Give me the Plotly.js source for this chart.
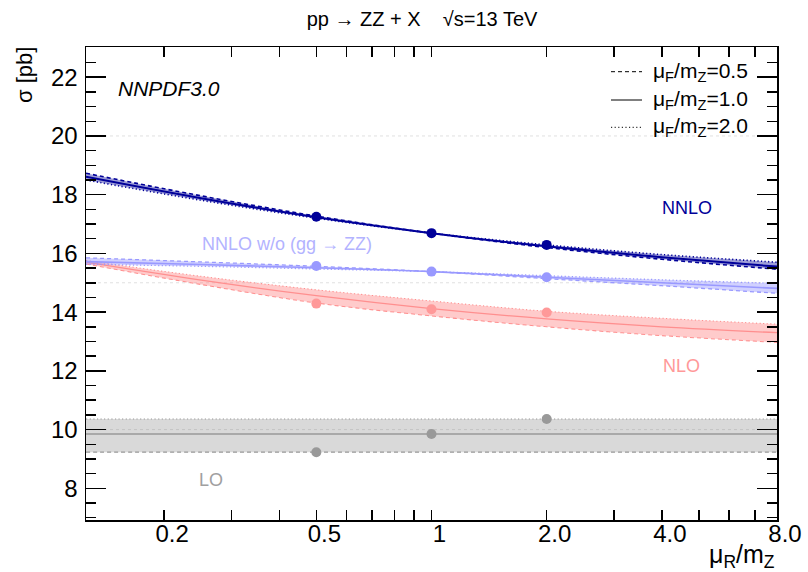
<!DOCTYPE html>
<html>
<head>
<meta charset="utf-8">
<script src="https://cdn.plot.ly/plotly-3.0.1.min.js"></script>
<style>html,body{margin:0;padding:0;background:#fff;}#chart{width:808px;height:572px;}</style>
</head>
<body>
<div id="chart"></div>
<script>
// scale ratio mu_R / m_Z
const muR = [0.125, 0.25, 0.5, 1, 2, 4, 8];

// NNLO
const nnlo_muF05 = [18.73, 17.96, 17.27, 16.69, 16.20, 15.80, 15.46];
const nnlo_muF10 = [18.61, 17.88, 17.23, 16.69, 16.24, 15.87, 15.55];
const nnlo_muF20 = [18.50, 17.81, 17.20, 16.69, 16.29, 15.96, 15.70];

// NNLO w/o (gg -> ZZ)
const nnloNoGG_muF05 = [15.85, 15.71, 15.56, 15.38, 15.14, 14.90, 14.64];
const nnloNoGG_muF10 = [15.72, 15.62, 15.51, 15.38, 15.19, 15.00, 14.81];
const nnloNoGG_muF20 = [15.63, 15.56, 15.47, 15.38, 15.24, 15.10, 14.98];

// NLO
const nlo_muF05 = [15.64, 14.94, 14.31, 13.87, 13.50, 13.20, 12.97];
const nlo_muF10 = [15.70, 15.09, 14.56, 14.12, 13.77, 13.50, 13.30];
const nlo_muF20 = [15.76, 15.22, 14.76, 14.38, 14.03, 13.79, 13.59];

// LO (independent of mu_R)
const lo_muF05 = [9.23, 9.23, 9.23, 9.23, 9.23, 9.23, 9.23];
const lo_muF10 = [9.85, 9.85, 9.85, 9.85, 9.85, 9.85, 9.85];
const lo_muF20 = [10.36, 10.36, 10.36, 10.36, 10.36, 10.36, 10.36];

// points at mu_R = mu_F
const ptsX = [0.5, 1, 2];
const nnlo_pts = [17.25, 16.69, 16.29];
const nnloNoGG_pts = [15.57, 15.38, 15.19];
const nlo_pts = [14.29, 14.10, 13.99];
const lo_pts = [9.23, 9.85, 10.36];

// axis ticks
const xTickVals = [0.2, 0.5, 1, 2, 4, 8];
const xTickText = ['0.2', '0.5', '1', '2.0', '4.0', '8.0'];
const xMinorVals = [0.3, 0.4, 0.6, 0.7, 0.8, 0.9, 3, 5, 6, 7];

const FONT = 'Liberation Sans, Arial, Helvetica, sans-serif';
const DASH = '4px,3px';
const DOT = '1.2px,2.4px';

function group(y05, y10, y20, color, fill, w) {
  return [
    {x: muR, y: y05, type: 'scatter', mode: 'lines', line: {color: color, width: w * 0.8, dash: DASH, shape: 'spline'}, hoverinfo: 'skip'},
    {x: muR, y: y20, type: 'scatter', mode: 'lines', fill: 'tonexty', fillcolor: fill, line: {color: color, width: w * 0.8, dash: DOT, shape: 'spline'}, hoverinfo: 'skip'},
    {x: muR, y: y10, type: 'scatter', mode: 'lines', line: {color: color, width: w, shape: 'spline'}, hoverinfo: 'skip'}
  ];
}
function pts(y, color) {
  return {x: ptsX, y: y, type: 'scatter', mode: 'markers', marker: {color: color, size: 10}, hoverinfo: 'skip'};
}

const C_NNLO = '#000099', C_NOGG = '#9999ff', C_NLO = '#ff8f8f', C_LO = '#999999';

const data = [].concat(
  group(lo_muF05, lo_muF10, lo_muF20, C_LO, 'rgba(140,140,140,0.33)', 1.5),
  group(nlo_muF05, nlo_muF10, nlo_muF20, C_NLO, 'rgba(255,130,130,0.42)', 1.3),
  group(nnloNoGG_muF05, nnloNoGG_muF10, nnloNoGG_muF20, C_NOGG, 'rgba(140,140,255,0.40)', 1.6),
  group(nnlo_muF05, nnlo_muF10, nnlo_muF20, C_NNLO, 'rgba(0,0,153,0.38)', 2),
  [pts(lo_pts, C_LO), pts(nlo_pts, '#ff9999'), pts(nnloNoGG_pts, C_NOGG), pts(nnlo_pts, C_NNLO)]
);

const H = 473, W = 691;
const legY = [71.7, 100, 127.3].map(v => (520 - v) / H);
const legDash = [DASH, 'solid', DOT];
const legText = ['μ<sub>F</sub>/m<sub>Z</sub>=0.5', 'μ<sub>F</sub>/m<sub>Z</sub>=1.0', 'μ<sub>F</sub>/m<sub>Z</sub>=2.0'];

const shapes = [];
// faint dotted reference grid
[10, 15, 20].forEach(v => shapes.push({type: 'line', xref: 'paper', yref: 'y', x0: 0, x1: 1, y0: v, y1: v, layer: 'below', line: {color: '#e0e0e0', width: 1, dash: 'dot'}}));
shapes.push({type: 'line', xref: 'x', yref: 'paper', x0: 0, x1: 0, y0: 0, y1: 1, layer: 'below', line: {color: '#e0e0e0', width: 1, dash: 'dot'}});
// long decade tick at 1 (bottom & top)
shapes.push({type: 'line', xref: 'x', yref: 'paper', x0: 0, x1: 0, y0: 0, y1: 20 / H, line: {color: '#000', width: 1.5}});
shapes.push({type: 'line', xref: 'x', yref: 'paper', x0: 0, x1: 0, y0: 1 - 20 / H, y1: 1, line: {color: '#000', width: 1.5}});
// legend samples
legY.forEach((yy, i) => shapes.push({type: 'line', xref: 'paper', yref: 'paper', x0: (611 - 86) / W, x1: (642 - 86) / W, y0: yy, y1: yy, line: {color: '#000', width: 1, dash: legDash[i]}}));

const annotations = [
  {text: 'NNPDF3.0', xref: 'paper', yref: 'paper', x: (116 - 86) / W, y: (520 - 88) / H, xanchor: 'left', yanchor: 'middle', showarrow: false, font: {family: FONT, size: 21, color: '#000', style: 'italic'}},
  {text: 'NNLO', xref: 'paper', yref: 'paper', x: (687 - 86) / W, y: (520 - 208) / H, xanchor: 'center', yanchor: 'middle', showarrow: false, font: {family: FONT, size: 18, color: C_NNLO}},
  {text: 'NNLO w/o (gg → ZZ)', xref: 'paper', yref: 'paper', x: (200 - 86) / W, y: (520 - 244) / H, xanchor: 'left', yanchor: 'middle', showarrow: false, font: {family: FONT, size: 18, color: '#b3b3ff'}},
  {text: 'NLO', xref: 'paper', yref: 'paper', x: (681 - 86) / W, y: (520 - 366) / H, xanchor: 'center', yanchor: 'middle', showarrow: false, font: {family: FONT, size: 18, color: '#ff9999'}},
  {text: 'LO', xref: 'paper', yref: 'paper', x: (211 - 86) / W, y: (520 - 480) / H, xanchor: 'center', yanchor: 'middle', showarrow: false, font: {family: FONT, size: 18, color: '#a0a0a0'}},
  {text: 'σ [pb]', xref: 'paper', yref: 'paper', x: (25 - 86) / W, y: (520 - 45) / H, xanchor: 'center', yanchor: 'top', textangle: -90, showarrow: false, font: {family: FONT, size: 22, color: '#000'}},
  {text: 'μ<sub>R</sub>/m<sub>Z</sub>', xref: 'paper', yref: 'paper', x: 1, y: (520 - 556) / H, xanchor: 'right', yanchor: 'middle', showarrow: false, font: {family: FONT, size: 25, color: '#000'}}
];
legText.forEach((t, i) => annotations.push({text: t, xref: 'paper', yref: 'paper', x: (651 - 86) / W, y: legY[i], xanchor: 'left', yanchor: 'middle', showarrow: false, font: {family: FONT, size: 21, color: '#000'}}));

const layout = {
  width: 808, height: 572,
  margin: {l: 86, r: 31, t: 47, b: 52},
  paper_bgcolor: '#fff', plot_bgcolor: '#fff',
  showlegend: false,
  font: {family: FONT, color: '#000'},
  title: {text: 'pp → ZZ + X\u00A0\u00A0\u00A0\u00A0√s=13 TeV', x: 422 / 808, xanchor: 'center', y: 1 - 19 / 572, yanchor: 'middle', font: {family: FONT, size: 20, color: '#000'}},
  xaxis: {
    type: 'log', range: [Math.log10(0.125), Math.log10(8)],
    tickmode: 'array', tickvals: xTickVals, ticktext: xTickText,
    ticks: 'inside', ticklen: 10, tickwidth: 1.5, tickcolor: '#000',
    minor: {tickmode: 'array', tickvals: xMinorVals, ticks: 'inside', ticklen: 10, tickwidth: 1.5, tickcolor: '#000', showgrid: false},
    showline: true, linecolor: '#000', linewidth: 1.5, mirror: 'allticks',
    showgrid: false, zeroline: false,
    tickfont: {family: FONT, size: 24, color: '#000'},
    ticklabelshift: 8, ticklabelstandoff: -8
  },
  yaxis: {
    range: [6.92, 23.03], tickmode: 'linear', tick0: 0, dtick: 2,
    ticks: 'inside', ticklen: 20, tickwidth: 1.5, tickcolor: '#000',
    minor: {dtick: 0.5, tick0: 0, ticks: 'inside', ticklen: 10, tickwidth: 1.5, tickcolor: '#000', showgrid: false},
    showline: true, linecolor: '#000', linewidth: 1.5, mirror: 'allticks',
    showgrid: false, zeroline: false,
    tickfont: {family: FONT, size: 24, color: '#000'},
    ticklabelstandoff: 2
  },
  shapes: shapes,
  annotations: annotations
};

Plotly.newPlot('chart', data, layout, {staticPlot: true, displayModeBar: false});
</script>
</body>
</html>
